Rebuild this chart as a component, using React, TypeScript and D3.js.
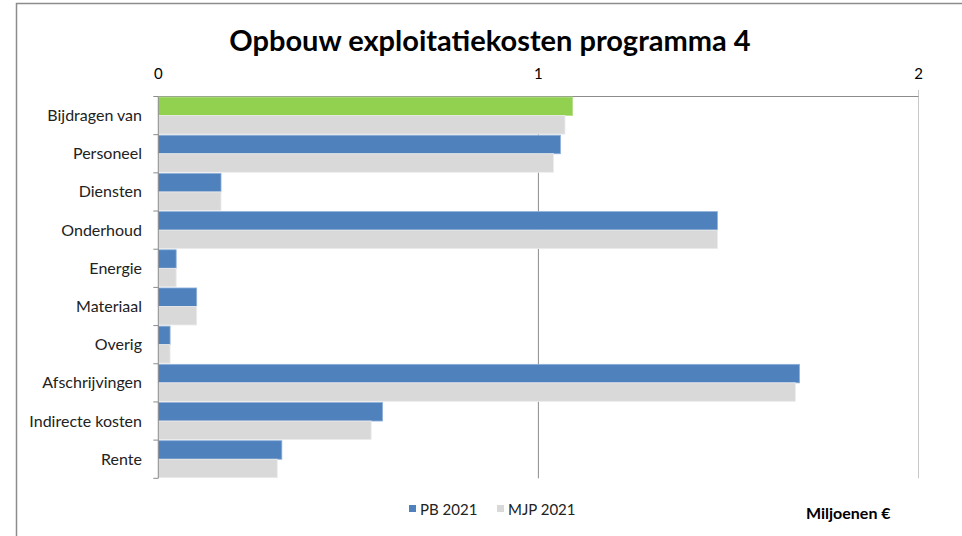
import React, { useEffect, useRef } from "react";
import * as d3 from "d3";

const categories = [
  "Bijdragen van",
  "Personeel",
  "Diensten",
  "Onderhoud",
  "Energie",
  "Materiaal",
  "Overig",
  "Afschrijvingen",
  "Indirecte kosten",
  "Rente",
];
const pb2021 = [1.09, 1.058, 0.165, 1.471, 0.047, 0.101, 0.031, 1.687, 0.59, 0.325];
const mjp2021 = [1.07, 1.04, 0.165, 1.471, 0.047, 0.101, 0.031, 1.676, 0.56, 0.313];
const xTicks = [0, 1, 2];
const seriesNames = ["PB 2021", "MJP 2021"];

const W = 962;
const H = 536;
const FONT = "Lato, 'Open Sans', sans-serif";

export default function App() {
  const ref = useRef<SVGSVGElement>(null);

  useEffect(() => {
    const svg = d3.select(ref.current);
    svg.selectAll("*").remove();

    const left = 158.3;
    const right = 918.5;
    const top = 96.5;
    const bottom = 478.3;

    svg
      .append("rect")
      .attr("x", 16.5)
      .attr("y", 3.5)
      .attr("width", 1000)
      .attr("height", 600)
      .attr("fill", "#fff")
      .attr("stroke", "#8c8c8c")
      .attr("stroke-width", 1.5);

    const x = d3.scaleLinear().domain([0, 2]).range([left, right]);
    const y = d3.scaleBand<string>().domain(categories).range([top, bottom]).paddingInner(0.03).paddingOuter(0.015);
    const yFull = d3.scaleBand<string>().domain(categories).range([top, bottom]);
    const sub = d3.scaleBand<string>().domain(seriesNames).range([0, y.bandwidth()]);

    svg
      .append("text")
      .attr("x", 490)
      .attr("y", 51)
      .attr("text-anchor", "middle")
      .attr("font-family", FONT)
      .attr("font-weight", "bold")
      .attr("font-size", 29)
      .attr("fill", "#000")
      .text("Opbouw exploitatiekosten programma 4");

    xTicks.forEach((t) => {
      if (t === 0) return;
      svg
        .append("line")
        .attr("x1", x(t))
        .attr("x2", x(t))
        .attr("y1", t === 2 ? 90 : top)
        .attr("y2", bottom)
        .attr("stroke", t === 2 ? "#c8c8c8" : "#8c8c8c")
        .attr("stroke-width", 1);
    });
    svg
      .append("line")
      .attr("x1", left)
      .attr("x2", right)
      .attr("y1", top)
      .attr("y2", top)
      .attr("stroke", "#8c8c8c");

    svg
      .selectAll("text.xt")
      .data(xTicks)
      .join("text")
      .attr("class", "xt")
      .attr("x", (d) => x(d))
      .attr("y", 79)
      .attr("text-anchor", "middle")
      .attr("font-family", FONT)
      .attr("font-size", 15)
      .attr("fill", "#000")
      .text((d) => String(d));

    const colorPB = (i: number) => (i === 0 ? "#92D050" : "#4F81BD");
    const strokePB = (i: number) => (i === 0 ? "#b3e08a" : "#8fb0d8");

    const g = svg.append("g");
    categories.forEach((c, i) => {
      const y0 = y(c)!;
      g.append("rect")
        .attr("x", x(0))
        .attr("y", y0 + sub("PB 2021")!)
        .attr("width", x(pb2021[i]) - x(0))
        .attr("height", sub.bandwidth())
        .attr("fill", colorPB(i))
        .attr("stroke", strokePB(i))
        .attr("stroke-width", 0.8);
      g.append("rect")
        .attr("x", x(0))
        .attr("y", y0 + sub("MJP 2021")!)
        .attr("width", x(mjp2021[i]) - x(0))
        .attr("height", sub.bandwidth())
        .attr("fill", "#D9D9D9")
        .attr("stroke", "#ececec")
        .attr("stroke-width", 0.8);
    });

    svg
      .append("line")
      .attr("x1", left)
      .attr("x2", left)
      .attr("y1", top)
      .attr("y2", bottom)
      .attr("stroke", "#8c8c8c");
    const bounds = categories.map((c) => yFull(c)!).concat([bottom]);
    svg
      .selectAll("line.yt")
      .data(bounds)
      .join("line")
      .attr("class", "yt")
      .attr("x1", left - 5)
      .attr("x2", left)
      .attr("y1", (d) => d)
      .attr("y2", (d) => d)
      .attr("stroke", "#8c8c8c");

    svg
      .selectAll("text.yl")
      .data(categories)
      .join("text")
      .attr("class", "yl")
      .attr("x", 142)
      .attr("y", (d) => yFull(d)! + yFull.bandwidth() / 2 + 5.5)
      .attr("text-anchor", "end")
      .attr("font-family", FONT)
      .attr("font-size", 16)
      .attr("fill", "#222")
      .text((d) => d);

    const legend = [
      { name: "PB 2021", color: "#4F81BD", x: 409 },
      { name: "MJP 2021", color: "#D9D9D9", x: 497 },
    ];
    legend.forEach((l) => {
      svg
        .append("rect")
        .attr("x", l.x)
        .attr("y", 505)
        .attr("width", 7)
        .attr("height", 7)
        .attr("fill", l.color);
      svg
        .append("text")
        .attr("x", l.x + 11)
        .attr("y", 515)
        .attr("font-family", FONT)
        .attr("font-size", 15)
        .attr("fill", "#222")
        .text(l.name);
    });

    svg
      .append("text")
      .attr("x", 806)
      .attr("y", 519)
      .attr("font-family", FONT)
      .attr("font-weight", "bold")
      .attr("font-size", 16)
      .attr("fill", "#000")
      .text("Miljoenen €");
  }, []);

  return (
    <svg
      ref={ref}
      width={W}
      height={H}
      style={{ position: "absolute", left: 0, top: 0, display: "block", background: "#fff" }}
    />
  );
}
